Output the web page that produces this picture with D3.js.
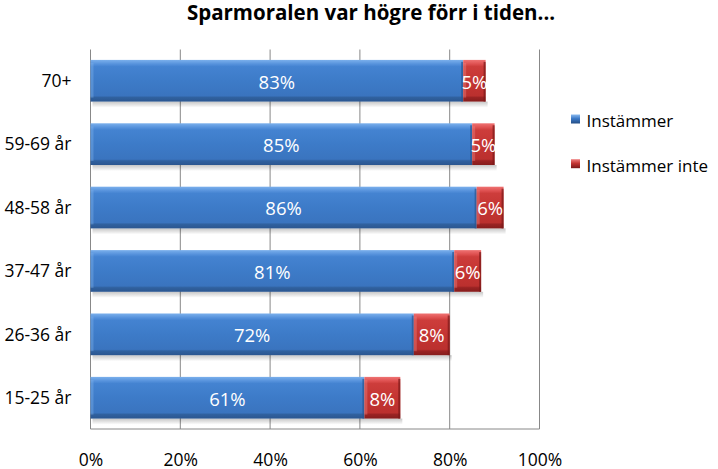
<!DOCTYPE html>
<html><head><meta charset="utf-8">
<script src="https://cdn.jsdelivr.net/npm/d3@7"></script>
<style>body{margin:0;background:#fff;} svg{display:block;}</style>
</head><body>
<script>
const categories = ["70+", "59-69 år", "48-58 år", "37-47 år", "26-36 år", "15-25 år"];
const seriesNames = ["Instämmer", "Instämmer inte"];
const agree = [83, 85, 86, 81, 72, 61];
const disagree = [5, 5, 6, 6, 8, 8];
const tickValues = [0, 20, 40, 60, 80, 100];
const title = "Sparmoralen var högre förr i tiden...";

const W = 718, H = 469;
const font = "'Open Sans', Lato, sans-serif";
const svg = d3.select("body").append("svg").attr("width", W).attr("height", H);
const defs = svg.append("defs");

function grad(id, stops, horiz) {
  const g = defs.append("linearGradient").attr("id", id).attr("x1", 0).attr("y1", 0)
    .attr("x2", horiz ? 1 : 0).attr("y2", horiz ? 0 : 1);
  stops.forEach(s => g.append("stop").attr("offset", s[0]).attr("stop-color", s[1]));
}
grad("gBlue", [[0, "#7bb0ec"], [0.1, "#5692dc"], [0.16, "#4483d1"], [0.5, "#3d7bc8"], [0.86, "#3a74bf"], [0.9, "#30619f"], [1, "#2b5690"]]);
grad("gRed", [[0, "#ef7373"], [0.1, "#de5050"], [0.16, "#cd3d3b"], [0.5, "#c43533"], [0.86, "#bb302e"], [0.9, "#9a2323"], [1, "#861d1d"]]);
grad("gShadow", [[0, "rgba(0,0,0,0.22)"], [1, "rgba(0,0,0,0)"]]);
grad("lBlue", [[0, "#8ab9ee"], [0.45, "#3d7bc8"], [1, "#244d85"]]);
grad("lRed", [[0, "#f08080"], [0.45, "#c43533"], [1, "#7a1818"]]);

const plot = {left: 90.5, right: 539.5, top: 49.5, bottom: 429};
const x = d3.scaleLinear().domain([0, 100]).range([plot.left, plot.right]);
const y = d3.scaleBand().domain(categories).range([plot.top, plot.bottom]).paddingInner(0.342).paddingOuter(0.164);

// title
svg.append("text").attr("x", 371).attr("y", 20).attr("text-anchor", "middle")
  .attr("font-family", font).attr("font-weight", "bold").attr("font-size", 20.5).attr("fill", "#000").text(title);

// gridlines
svg.append("g").selectAll("line").data(tickValues).join("line")
  .attr("x1", d => x(d)).attr("x2", d => x(d)).attr("y1", plot.top).attr("y2", plot.bottom)
  .attr("stroke", "#888").attr("stroke-width", 1);
svg.append("line").attr("x1", plot.left).attr("x2", plot.right).attr("y1", plot.bottom).attr("y2", plot.bottom)
  .attr("stroke", "#888");

// x axis labels
const xAxis = d3.axisBottom(x).tickValues(tickValues).tickSize(0).tickPadding(0).tickFormat(d => d + "%");
const gx = svg.append("g").attr("transform", `translate(0,${plot.bottom})`).call(xAxis);
gx.select(".domain").remove();
gx.selectAll("text").attr("font-family", font).attr("font-size", 17.5).attr("fill", "#000").attr("dy", null).attr("y", 37);

// y axis labels
const yAxis = d3.axisLeft(y).tickSize(0).tickPadding(0);
const gy = svg.append("g").attr("transform", `translate(71.5,0)`).call(yAxis);
gy.select(".domain").remove();
gy.selectAll("text").attr("font-family", font).attr("font-size", 17.5).attr("fill", "#000").attr("x", 0).attr("dy", "0.36em");

const rows = categories.map((c, i) => ({c, a: agree[i], d: disagree[i]}));
const bars = svg.append("g").selectAll("g").data(rows).join("g");
const bh = y.bandwidth();

// shadow
bars.append("rect").attr("x", d => x(0) + 2).attr("y", d => y(d.c) + bh).attr("width", d => x(d.a + d.d) - x(0)).attr("height", 6)
  .attr("fill", "url(#gShadow)");

function seg(sel, x0f, x1f, fill, edge, light) {
  sel.append("rect").attr("x", d => x(x0f(d))).attr("y", d => y(d.c)).attr("width", d => x(x1f(d)) - x(x0f(d))).attr("height", bh)
    .attr("fill", fill);
  sel.append("rect").attr("x", d => x(x0f(d))).attr("y", d => y(d.c) + 3).attr("width", 3).attr("height", bh - 7)
    .attr("fill", light).attr("opacity", 0.35);
  sel.append("rect").attr("x", d => x(x1f(d)) - 2).attr("y", d => y(d.c) + 2).attr("width", 2).attr("height", bh - 2)
    .attr("fill", edge).attr("opacity", 0.7);
}
seg(bars, d => 0, d => d.a, "url(#gBlue)", "#2b5690", "#8ab9ee");
seg(bars, d => d.a, d => d.a + d.d, "url(#gRed)", "#7a1818", "#f09090");

// labels
bars.append("text").attr("x", d => (x(0) + x(d.a)) / 2).attr("y", d => y(d.c) + bh / 2).attr("dy", "0.42em")
  .attr("text-anchor", "middle").attr("font-family", font).attr("font-size", 18.5).attr("fill", "#fff").text(d => d.a + "%");
bars.append("text").attr("x", d => (x(d.a) + x(d.a + d.d)) / 2).attr("y", d => y(d.c) + bh / 2).attr("dy", "0.42em")
  .attr("text-anchor", "middle").attr("font-family", font).attr("font-size", 18.5).attr("fill", "#fff").text(d => d.d + "%");

// legend
const lg = svg.append("g").selectAll("g").data(seriesNames).join("g")
  .attr("transform", (d, i) => `translate(571,${114.5 + i * 44.7})`);
lg.append("rect").attr("width", 9).attr("height", 9).attr("fill", (d, i) => i === 0 ? "url(#lBlue)" : "url(#lRed)");
lg.append("text").attr("x", 15.5).attr("y", 12.8).attr("font-family", font).attr("font-size", 17).attr("fill", "#000").text(d => d);
</script>
</body></html>
